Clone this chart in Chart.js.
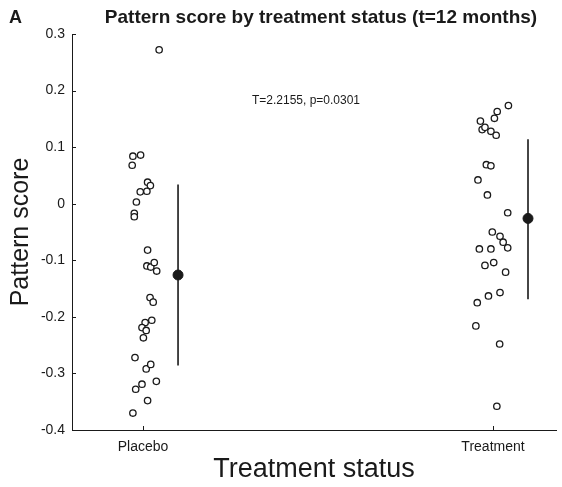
<!DOCTYPE html>
<html>
<head>
<meta charset="utf-8">
<script src="https://cdn.jsdelivr.net/npm/chart.js@4.4.1/dist/chart.umd.min.js"></script>
<style>
  html, body { margin: 0; padding: 0; background: #fff; }
  #wrap { width: 562px; height: 487px; }
</style>
</head>
<body>
<div id="wrap"><canvas id="chart" width="562" height="487"></canvas></div>
<script>
// groups on the x axis (1 = Placebo, 2 = Treatment)
const groups = ['Placebo', 'Treatment'];
const yTicks = [0.3, 0.2, 0.1, 0, -0.1, -0.2, -0.3, -0.4];

// individual subjects (x = jittered position around the group)
const placeboX = [1.046, 0.993, 0.971, 0.969, 1.013, 1.021, 1.011, 0.992, 0.981, 0.975, 0.975,
  1.013, 1.011, 1.022, 1.032, 1.039, 1.020, 1.029, 1.025, 1.006, 0.997, 1.009, 1.001,
  0.977, 1.009, 1.022, 1.038, 0.997, 0.979, 1.013, 0.971];
const placeboY = [0.272, 0.086, 0.084, 0.068, 0.038, 0.032, 0.022, 0.021, 0.003, -0.017, -0.023,
  -0.082, -0.110, -0.112, -0.104, -0.119, -0.166, -0.174, -0.206, -0.210, -0.219, -0.224, -0.237,
  -0.272, -0.292, -0.284, -0.314, -0.319, -0.328, -0.348, -0.370];

const treatmentX = [2.044, 2.012, 2.004, 1.964, 1.969, 1.977, 1.994, 2.009, 1.981, 1.994, 1.957,
  1.984, 2.042, 1.998, 2.020, 2.029, 2.042, 1.961, 1.994, 1.977, 2.002, 2.036, 2.020, 1.987,
  1.955, 1.951, 2.019, 2.011];
const treatmentY = [0.1735, 0.163, 0.151, 0.146, 0.131, 0.135, 0.128, 0.121, 0.069, 0.067, 0.042,
  0.0155, -0.016, -0.050, -0.0575, -0.068, -0.078, -0.080, -0.080, -0.109, -0.104, -0.121, -0.157,
  -0.163, -0.175, -0.216, -0.248, -0.358];

// group mean and bar ends
const meanX = [1.1, 2.1];
const meanY = [-0.126, -0.026];
const barLow = [-0.286, -0.169];
const barHigh = [0.034, 0.114];

const titleText = 'Pattern score by treatment status (t=12 months)';
const statText = 'T=2.2155, p=0.0301';

const toPoints = (xs, ys) => xs.map((x, i) => ({ x: x, y: ys[i] }));

const ink = '#1a1a1a';
const fontFam = '"Liberation Sans", Arial, sans-serif';

// extra text + inward tick marks
const extras = {
  id: 'extras',
  afterDraw(chart) {
    const ctx = chart.ctx;
    const xs = chart.scales.x, ys = chart.scales.y;
    const area = chart.chartArea;
    ctx.save();
    ctx.strokeStyle = ink;
    ctx.lineWidth = 1;
    yTicks.forEach(v => {
      const py = Math.round(ys.getPixelForValue(v)) + 0.5;
      ctx.beginPath();
      ctx.moveTo(area.left, py);
      ctx.lineTo(area.left + 4, py);
      ctx.stroke();
    });
    [1, 2].forEach(v => {
      const px = Math.round(xs.getPixelForValue(v)) + 0.5;
      ctx.beginPath();
      ctx.moveTo(px, area.bottom);
      ctx.lineTo(px, area.bottom - 4);
      ctx.stroke();
    });
    ctx.fillStyle = ink;
    ctx.textBaseline = 'middle';
    ctx.font = 'bold 18px ' + fontFam;
    ctx.textAlign = 'left';
    ctx.fillText('A', 9, 18);
    ctx.font = 'bold 19px ' + fontFam;
    ctx.textAlign = 'center';
    ctx.fillText(titleText, 321, 18);
    ctx.font = '12px ' + fontFam;
    ctx.fillText(statText, 306, 101);
    ctx.restore();
  }
};

new Chart(document.getElementById('chart'), {
  type: 'scatter',
  data: {
    datasets: [
      {
        label: 'means',
        data: toPoints(meanX, meanY),
        pointRadius: 5,
        backgroundColor: ink,
        borderColor: ink,
        borderWidth: 1,
        order: 0
      },
      {
        label: 'placebo bar',
        data: [{ x: meanX[0], y: barHigh[0] }, { x: meanX[0], y: barLow[0] }],
        showLine: true,
        pointRadius: 0,
        borderColor: ink,
        borderWidth: 1.6,
        order: 1
      },
      {
        label: 'treatment bar',
        data: [{ x: meanX[1], y: barHigh[1] }, { x: meanX[1], y: barLow[1] }],
        showLine: true,
        pointRadius: 0,
        borderColor: ink,
        borderWidth: 1.6,
        order: 1
      },
      {
        label: groups[0],
        data: toPoints(placeboX, placeboY),
        pointRadius: 3.2,
        pointBorderWidth: 1.3,
        backgroundColor: '#fff',
        borderColor: ink,
        order: 2
      },
      {
        label: groups[1],
        data: toPoints(treatmentX, treatmentY),
        pointRadius: 3.2,
        pointBorderWidth: 1.3,
        backgroundColor: '#fff',
        borderColor: ink,
        order: 2
      }
    ]
  },
  options: {
    responsive: false,
    animation: false,
    devicePixelRatio: 1,
    layout: { padding: { top: 34, right: 6, left: 0, bottom: 0 } },
    plugins: {
      legend: { display: false },
      tooltip: { enabled: false }
    },
    scales: {
      x: {
        type: 'linear',
        min: 0.797,
        max: 2.18,
        grid: { display: false, drawTicks: false },
        border: { display: true, color: ink, width: 1 },
        afterBuildTicks: s => { s.ticks = [{ value: 1 }, { value: 2 }]; },
        afterFit: s => { s.height = 57; s.paddingLeft = 0; s.paddingRight = 0; },
        ticks: {
          padding: 9,
          color: ink,
          font: { family: fontFam, size: 14 },
          callback: v => groups[v - 1]
        },
        title: {
          display: true,
          text: 'Treatment status',
          color: ink,
          padding: { top: 0, bottom: 1 },
          font: { family: fontFam, size: 27 }
        }
      },
      y: {
        min: -0.4,
        max: 0.3,
        grid: { display: false, drawTicks: false },
        border: { display: true, color: ink, width: 1 },
        afterBuildTicks: s => { s.ticks = yTicks.map(v => ({ value: v })); },
        afterFit: s => { s.width = 72; s.paddingTop = 0; s.paddingBottom = 0; },
        ticks: {
          padding: 7,
          color: ink,
          font: { family: fontFam, size: 14 },
          callback: v => String(Math.round(v * 10) / 10)
        },
        title: {
          display: true,
          text: 'Pattern score',
          color: ink,
          padding: { top: 6, bottom: 0 },
          font: { family: fontFam, size: 25 }
        }
      }
    }
  },
  plugins: [extras]
});
</script>
</body>
</html>
